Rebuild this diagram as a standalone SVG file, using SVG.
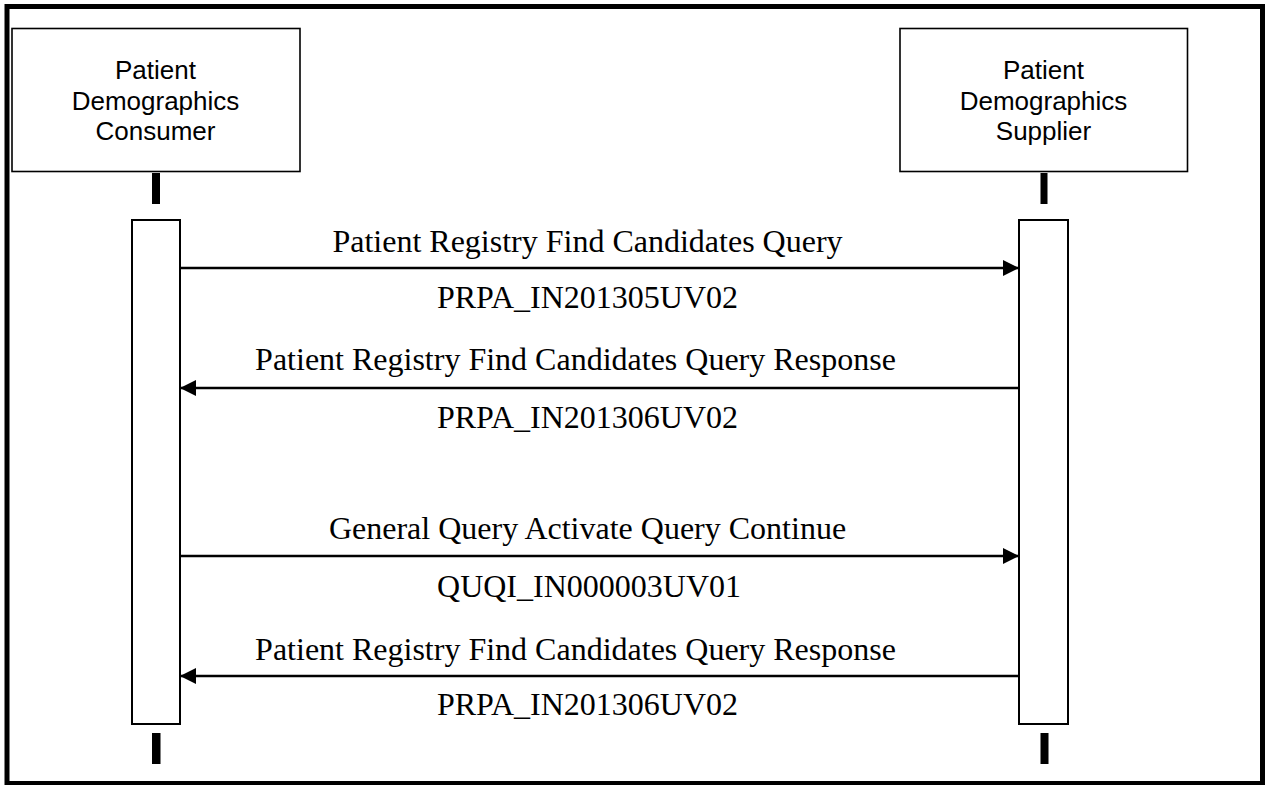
<svg xmlns="http://www.w3.org/2000/svg" width="1267" height="785" viewBox="0 0 1267 785">
  <style>
    .frame { fill: none; stroke: #000; stroke-width: 5; }
    .actor { fill: #fff; stroke: #000; stroke-width: 1.6; }
    .actor-text { font-family: "Liberation Sans", Arial, sans-serif; font-size: 26px; fill: #000; text-anchor: middle; }
    .stub { fill: #000; }
    .act { fill: #fff; stroke: #000; stroke-width: 2; }
    .msg { stroke: #000; stroke-width: 2.4; fill: none; }
    .label { font-family: "Liberation Serif", "Times New Roman", serif; font-size: 32px; fill: #000; text-anchor: middle; }
  </style>
  <defs>
    <marker id="arrow" viewBox="0 0 16 16" refX="16" refY="8" markerWidth="16" markerHeight="16" markerUnits="userSpaceOnUse" orient="auto">
      <path d="M0,0 L16,8 L0,16 Z" fill="#000"/>
    </marker>
  </defs>
  <rect x="0" y="0" width="1267" height="785" fill="#fff"/>
  <rect class="frame" x="7" y="6.5" width="1255.5" height="777"/>

  <g id="consumer">
    <rect class="actor" x="12" y="28.5" width="288" height="143"/>
    <text class="actor-text" x="155.5" y="79">Patient</text>
    <text class="actor-text" x="155.5" y="109.5">Demographics</text>
    <text class="actor-text" x="155.5" y="140">Consumer</text>
    <rect class="stub" x="152" y="173" width="8" height="31"/>
    <rect class="act" x="132" y="220" width="48" height="504"/>
    <rect class="stub" x="152" y="733" width="8.5" height="31"/>
  </g>

  <g id="supplier">
    <rect class="actor" x="900" y="28.5" width="287.5" height="143"/>
    <text class="actor-text" x="1043.5" y="79">Patient</text>
    <text class="actor-text" x="1043.5" y="109.5">Demographics</text>
    <text class="actor-text" x="1043.5" y="140">Supplier</text>
    <rect class="stub" x="1040.5" y="173" width="7" height="31"/>
    <rect class="act" x="1019" y="220" width="49" height="504"/>
    <rect class="stub" x="1040.5" y="733" width="8" height="31"/>
  </g>

  <g id="connectors">
    <line class="msg" x1="181" y1="268" x2="1019" y2="268" marker-end="url(#arrow)"/>
    <line class="msg" x1="1018" y1="388" x2="180" y2="388" marker-end="url(#arrow)"/>
    <line class="msg" x1="181" y1="556" x2="1019" y2="556" marker-end="url(#arrow)"/>
    <line class="msg" x1="1018" y1="676" x2="180" y2="676" marker-end="url(#arrow)"/>
  </g>

  <g id="labels">
    <text class="label" x="587.5" y="251.5">Patient Registry Find Candidates Query</text>
    <text class="label" x="587.5" y="307.5">PRPA_IN201305UV02</text>
    <text class="label" x="575.5" y="370">Patient Registry Find Candidates Query Response</text>
    <text class="label" x="587.5" y="427.5">PRPA_IN201306UV02</text>
    <text class="label" x="587.5" y="538.5">General Query Activate Query Continue</text>
    <text class="label" x="589" y="596.5">QUQI_IN000003UV01</text>
    <text class="label" x="575.5" y="659.5">Patient Registry Find Candidates Query Response</text>
    <text class="label" x="587.5" y="715">PRPA_IN201306UV02</text>
  </g>
</svg>
